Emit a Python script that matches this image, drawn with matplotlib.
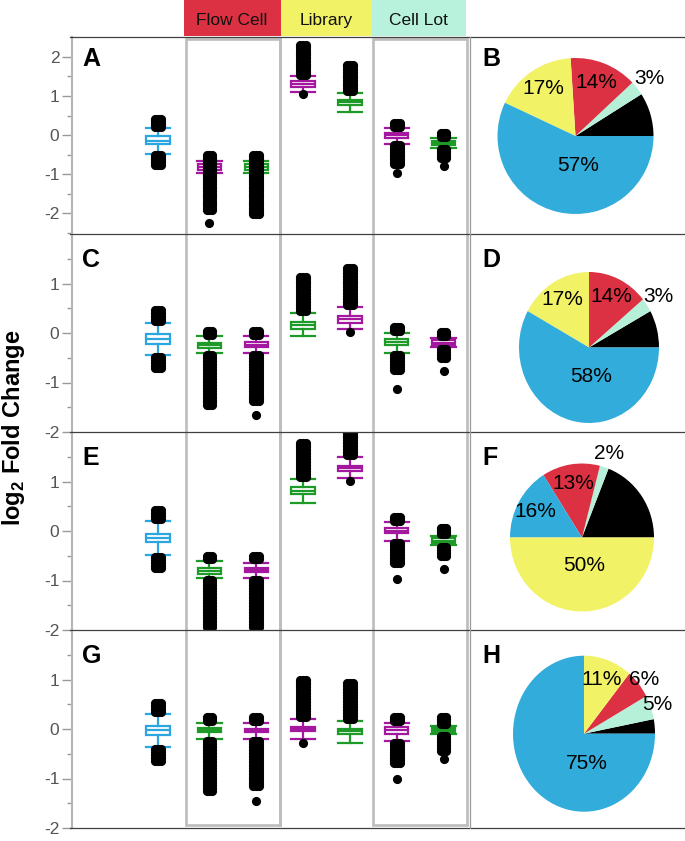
import math
import matplotlib
matplotlib.use('Agg')
import matplotlib.pyplot as plt
from matplotlib.patches import Rectangle
from matplotlib.lines import Line2D
from matplotlib.ticker import FixedLocator

plt.rcParams['font.family'] = ['Liberation Sans', 'DejaVu Sans']
plt.rcParams['axes.unicode_minus'] = False
plt.rcParams['mathtext.fontset'] = 'custom'
plt.rcParams['mathtext.rm'] = 'Liberation Sans'
plt.rcParams['mathtext.bf'] = 'Liberation Sans:bold'

# ---------------- data ----------------
groups = ["Flow Cell", "Library", "Cell Lot"]
panel_letters = [("A", "B"), ("C", "D"), ("E", "F"), ("G", "H")]

# box colour keys per row (c = cyan, m = magenta, g = green)
A_col = ['c', 'm', 'g', 'm', 'g', 'm', 'g']
C_col = ['c', 'g', 'm', 'g', 'm', 'g', 'm']
E_col = ['c', 'g', 'm', 'g', 'm', 'm', 'g']
G_col = ['c', 'g', 'm', 'm', 'g', 'm', 'g']

A_q1 = [-0.24, -0.88, -0.88, 1.23, 0.77, -0.07, -0.26]
A_med = [-0.14, -0.81, -0.81, 1.32, 0.85, 0.00, -0.20]
A_q3 = [-0.03, -0.75, -0.75, 1.38, 0.91, 0.06, -0.15]
A_lo = [-0.48, -0.97, -0.97, 1.11, 0.59, -0.22, -0.32]
A_hi = [0.19, -0.65, -0.65, 1.51, 1.09, 0.19, -0.07]
A_pts = [
    [0.22, 0.27, 0.31, 0.35, 0.40, -0.52, -0.57, -0.62, -0.67, -0.72, -0.77],
    [-0.52, -0.57, -0.62, -0.67, -0.72, -0.78, -0.84, -0.90, -0.96, -1.02, -1.08, -1.14,
     -1.20, -1.26, -1.32, -1.38, -1.44, -1.50, -1.56, -1.62, -1.68, -1.74, -1.80, -1.86,
     -1.91, -2.25],
    [-0.52, -0.57, -0.62, -0.67, -0.72, -0.78, -0.84, -0.90, -0.96, -1.02, -1.08, -1.14,
     -1.20, -1.26, -1.32, -1.38, -1.44, -1.50, -1.56, -1.62, -1.68, -1.74, -1.80, -1.86,
     -1.92, -1.97, -2.02],
    [1.55, 1.62, 1.69, 1.76, 1.83, 1.90, 1.97, 2.04, 2.11, 2.18, 2.25, 2.30, 1.04],
    [1.13, 1.20, 1.27, 1.34, 1.41, 1.48, 1.55, 1.62, 1.69, 1.76, 1.80],
    [0.22, 0.27, 0.32, -0.26, -0.32, -0.38, -0.44, -0.50, -0.56, -0.62, -0.68, -0.73, -0.97],
    [-0.04, 0.01, 0.05, -0.35, -0.41, -0.47, -0.53, -0.58, -0.80],
]

C_q1 = [-0.22, -0.31, -0.29, 0.09, 0.21, -0.24, -0.24]
C_med = [-0.12, -0.25, -0.24, 0.17, 0.28, -0.19, -0.20]
C_q3 = [-0.03, -0.20, -0.19, 0.23, 0.35, -0.12, -0.15]
C_lo = [-0.44, -0.41, -0.41, -0.07, 0.09, -0.41, -0.29]
C_hi = [0.20, -0.07, -0.07, 0.40, 0.52, 0.00, -0.10]
C_pts = [
    [0.24, 0.29, 0.35, 0.41, 0.46, -0.48, -0.54, -0.60, -0.66, -0.71],
    [-0.04, 0.01, 0.05, -0.45, -0.51, -0.57, -0.63, -0.69, -0.75, -0.81, -0.87, -0.93,
     -0.99, -1.05, -1.11, -1.17, -1.23, -1.29, -1.35, -1.40, -1.45],
    [-0.04, 0.01, 0.05, -0.45, -0.51, -0.57, -0.63, -0.69, -0.75, -0.81, -0.87, -0.93,
     -0.99, -1.05, -1.11, -1.17, -1.23, -1.29, -1.34, -1.38, -1.65],
    [0.44, 0.50, 0.56, 0.62, 0.68, 0.74, 0.80, 0.86, 0.92, 0.98, 1.04, 1.09, 1.13],
    [0.56, 0.62, 0.68, 0.74, 0.80, 0.86, 0.92, 0.98, 1.04, 1.10, 1.16, 1.22, 1.27, 1.31, 0.03],
    [0.04, 0.09, 0.12, -0.45, -0.51, -0.57, -0.63, -0.69, -0.74, -1.14],
    [-0.07, -0.02, 0.03, -0.33, -0.39, -0.45, -0.51, -0.77],
]

E_q1 = [-0.22, -0.86, -0.82, 0.74, 1.21, -0.05, -0.24]
E_med = [-0.14, -0.80, -0.79, 0.80, 1.27, 0.01, -0.20]
E_q3 = [-0.07, -0.74, -0.74, 0.88, 1.32, 0.07, -0.15]
E_lo = [-0.48, -0.94, -0.94, 0.57, 1.07, -0.20, -0.29]
E_hi = [0.20, -0.61, -0.64, 1.05, 1.49, 0.18, -0.10]
E_pts = [
    [0.24, 0.30, 0.36, 0.42, -0.52, -0.58, -0.64, -0.70, -0.75],
    [-0.50, -0.56, -0.98, -1.04, -1.10, -1.16, -1.22, -1.28, -1.34, -1.40, -1.46, -1.52,
     -1.58, -1.64, -1.70, -1.76, -1.82, -1.88, -1.94],
    [-0.50, -0.57, -0.98, -1.04, -1.10, -1.16, -1.22, -1.28, -1.34, -1.40, -1.46, -1.52,
     -1.58, -1.64, -1.70, -1.76, -1.82, -1.88, -1.94],
    [1.09, 1.15, 1.21, 1.27, 1.33, 1.39, 1.45, 1.51, 1.57, 1.63, 1.69, 1.74, 1.77],
    [1.53, 1.59, 1.65, 1.71, 1.77, 1.83, 1.89, 1.94, 1.98, 1.01],
    [0.21, 0.25, 0.28, -0.24, -0.30, -0.36, -0.42, -0.48, -0.54, -0.60, -0.64, -0.97],
    [-0.07, -0.02, 0.03, 0.07, -0.33, -0.39, -0.45, -0.50, -0.76],
]

G_q1 = [-0.12, -0.07, -0.07, -0.05, -0.11, -0.10, -0.06]
G_med = [-0.03, -0.02, -0.03, 0.00, -0.05, -0.03, -0.02]
G_q3 = [0.07, 0.03, 0.01, 0.05, 0.01, 0.05, 0.02]
G_lo = [-0.37, -0.20, -0.20, -0.20, -0.28, -0.24, -0.11]
G_hi = [0.30, 0.13, 0.13, 0.20, 0.17, 0.13, 0.07]
G_pts = [
    [0.34, 0.40, 0.46, 0.52, -0.41, -0.47, -0.53, -0.59, -0.64],
    [0.16, 0.21, 0.25, -0.24, -0.30, -0.36, -0.42, -0.48, -0.54, -0.60, -0.66, -0.72,
     -0.78, -0.84, -0.90, -0.96, -1.02, -1.08, -1.14, -1.20, -1.25],
    [0.16, 0.21, 0.25, -0.24, -0.30, -0.36, -0.42, -0.48, -0.54, -0.60, -0.66, -0.72,
     -0.78, -0.84, -0.90, -0.96, -1.02, -1.08, -1.12, -1.16, -1.45],
    [0.24, 0.30, 0.36, 0.42, 0.48, 0.54, 0.60, 0.66, 0.72, 0.78, 0.84, 0.90, 0.95, 1.00, -0.28],
    [0.21, 0.27, 0.33, 0.39, 0.45, 0.51, 0.57, 0.63, 0.69, 0.75, 0.81, 0.87, 0.93],
    [0.16, 0.21, 0.25, -0.28, -0.34, -0.40, -0.46, -0.52, -0.58, -0.63, -0.68, -1.01],
    [0.11, 0.16, 0.21, 0.25, -0.15, -0.21, -0.27, -0.33, -0.39, -0.45, -0.60],
]

# pie data (counter-clockwise from 3 o'clock); black slice unlabelled
B_keys = ['k', 't', 'r', 'y', 'b']
B_vals = [9, 3, 14, 17, 57]
D_keys = ['k', 't', 'r', 'y', 'b']
D_vals = [8, 3, 14, 17, 58]
F_keys = ['k', 't', 'r', 'b', 'y']
F_vals = [19, 2, 13, 16, 50]
H_keys = ['k', 't', 'r', 'y', 'b']
H_vals = [3, 5, 6, 11, 75]

# ---------------- style ----------------
BOXC = {'c': '#2AA7E0', 'm': '#A3189E', 'g': '#1E9A28'}
PIEC = {'k': '#000000', 't': '#B6F0D9', 'r': '#DB3142', 'y': '#F2F266', 'b': '#32ACDA'}
HEADC = ['#DB3142', '#F2F266', '#B8F2DC']

W, H = 685, 841
fig = plt.figure(figsize=(W / 100, H / 100), dpi=100)


def fr(x0, y0, x1, y1):
    return [x0 / W, 1 - y1 / H, (x1 - x0) / W, (y1 - y0) / H]


XL, XR = 72, 470
UNIT = 46.83
XLIM = (0.5 + (XL - 186) / UNIT, 0.5 + (XR - 186) / UNIT)
POS = [-0.1, 1, 2, 3, 4, 5, 6]
row_tops = [37, 234, 432, 630]
row_bots = [234, 432, 630, 828]

# overlay with column frames
ov = fig.add_axes(fr(XL, 37, XR, 828))
ov.set_xlim(*XLIM)
ov.set_ylim(0, 1)
ov.axis('off')
for x0 in (0.5, 4.5):
    ov.add_patch(Rectangle((x0, 0.004), 2.0, 0.994, fill=False,
                           edgecolor='#BDBDBD', linewidth=1.9, zorder=1))
ov.axvline(2.5, color='#BDBDBD', lw=1.9, ymin=0.004, ymax=0.998)

# header
hd = fig.add_axes(fr(XL, 0, XR, 36))
hd.set_xlim(*XLIM)
hd.set_ylim(0, 1)
hd.axis('off')
hspans = [(0.45, 2.52), (2.52, 4.47), (4.47, 6.47)]
for (a, b), name, col in zip(hspans, groups, HEADC):
    hd.add_patch(Rectangle((a, 0), b - a, 1, facecolor=col, edgecolor='none'))
    hd.text((a + b) / 2, 0.42, name, ha='center', va='center', fontsize=12.5, color='#111111')

rows = [
    (A_q1, A_med, A_q3, A_lo, A_hi, A_pts, A_col, (-2.53, 2.51), [-2, -1, 0, 1, 2], [-2.5, -1.5, -0.5, 0.5, 1.5]),
    (C_q1, C_med, C_q3, C_lo, C_hi, C_pts, C_col, (-2, 2), [-2, -1, 0, 1], [-1.5, -0.5, 0.5, 1.5]),
    (E_q1, E_med, E_q3, E_lo, E_hi, E_pts, E_col, (-2, 2), [-2, -1, 0, 1], [-1.5, -0.5, 0.5, 1.5]),
    (G_q1, G_med, G_q3, G_lo, G_hi, G_pts, G_col, (-2, 2), [-2, -1, 0, 1], [-1.5, -0.5, 0.5, 1.5]),
]
JIT = 0.062   # horizontal spread of the dense point columns (style)

for i, (q1, med, q3, lo, hi, pts, cols, ylim, maj, mnr) in enumerate(rows):
    ax = fig.add_axes(fr(XL, row_tops[i], XR, row_bots[i]))
    ax.set_facecolor('none')
    ax.set_xlim(*XLIM)
    ax.set_ylim(*ylim)
    for s in ('top', 'right', 'bottom'):
        ax.spines[s].set_visible(False)
    ax.spines['left'].set_color('#B5B5B5')
    ax.spines['left'].set_linewidth(1.5)
    ax.set_xticks([])
    ax.yaxis.set_major_locator(FixedLocator(maj))
    ax.yaxis.set_minor_locator(FixedLocator(mnr))
    ax.tick_params(axis='y', which='major', length=7, width=1, color='#999999',
                   labelsize=12.5, labelcolor='#555555', pad=2)
    ax.tick_params(axis='y', which='minor', length=3.5, width=1, color='#999999')
    for k in range(7):
        c = BOXC[cols[k]]
        st = dict(med=med[k], q1=q1[k], q3=q3[k], whislo=lo[k], whishi=hi[k], fliers=[])
        ax.bxp([st], positions=[POS[k]], widths=0.50, capwidths=0.52, patch_artist=True,
               showfliers=False, manage_ticks=False, zorder=3,
               boxprops=dict(facecolor='white', edgecolor=c, linewidth=1.6),
               medianprops=dict(color=c, linewidth=1.6),
               whiskerprops=dict(color=c, linewidth=1.6),
               capprops=dict(color=c, linewidth=1.6))
        vals = pts[k]
        xs, ys = [], []
        for j, v in enumerate(vals):
            dense = any(abs(v - u) < 0.13 for m, u in enumerate(vals) if m != j)
            offs = (-JIT, 0.0, JIT) if dense else (0.0,)
            for o in offs:
                xs.append(POS[k] + o)
                ys.append(v)
        ax.plot(xs, ys, 'o', color='black', ms=6.6, mew=0, zorder=4)
    off = 10 if i == 0 else 14
    ax.text(10 / (XR - XL), 1 - off / (row_bots[i] - row_tops[i]), panel_letters[i][0],
            transform=ax.transAxes, ha='left', va='top', fontsize=18, fontweight='bold')

# pies
pies = [
    (B_keys, B_vals, (575.5, 136.0), (78, 78)),
    (D_keys, D_vals, (589.0, 347.5), (70, 75.5)),
    (F_keys, F_vals, (582.0, 537.5), (72, 74)),
    (H_keys, H_vals, (584.0, 733.7), (71, 78)),
]
for i, (keys, vals, (cx, cy), (rx, ry)) in enumerate(pies):
    pa = fig.add_axes(fr(cx - rx, cy - ry, cx + rx, cy + ry))
    wedges, _ = pa.pie(vals, colors=[PIEC[k] for k in keys], startangle=0,
                       counterclock=True, wedgeprops=dict(linewidth=0))
    pa.set_aspect('auto')
    pa.set_xlim(-1, 1)
    pa.set_ylim(-1, 1)
    for w in wedges:
        w.set_clip_on(False)
    vmax = max(vals)
    for w, k, v in zip(wedges, keys, vals):
        if k == 'k':
            continue
        if v == vmax:
            ang, d = -85.0, 0.38
        elif v <= 3:
            ang, d = (w.theta1 + w.theta2) / 2, 1.2
        elif v <= 6:
            ang, d = (w.theta1 + w.theta2) / 2, 1.1
        else:
            ang, d = (w.theta1 + w.theta2) / 2, 0.74
        a = math.radians(ang)
        pa.text(d * math.cos(a), d * math.sin(a), f"{v}%", ha='center', va='center',
                fontsize=15, color='black', clip_on=False)
    off = 10 if i == 0 else 14
    fig.text(482 / W, 1 - (row_tops[i] + off) / H, panel_letters[i][1], ha='left', va='top',
             fontsize=18, fontweight='bold')

# row separators and panel border
for y in [37, 234, 432, 630, 828]:
    fig.add_artist(Line2D([70 / W, 685 / W], [1 - y / H, 1 - y / H], color='#404040', lw=0.9))
fig.add_artist(Line2D([XR / W, XR / W], [1 - 37 / H, 1 - 828 / H], color='#9A9A9A', lw=0.9))

fig.text(14 / W, 1 - 428 / H, r'log$_\mathbf{2}$ Fold Change', rotation=90, fontsize=17,
         fontweight='bold', ha='center', va='center')

fig.savefig('out.png', dpi=100)
